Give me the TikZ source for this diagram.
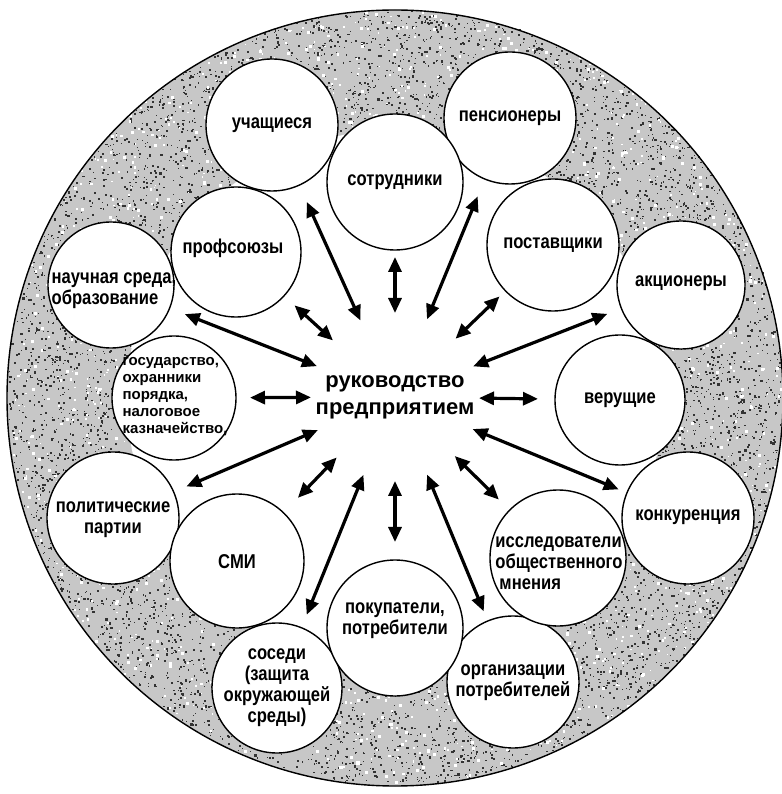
\documentclass[tikz,border=0pt]{standalone}
\usepackage{fontspec}
\setmainfont{Liberation Sans}
\newfontfamily\lblfont[FakeStretch=0.83]{Liberation Sans}
\usetikzlibrary{arrows.meta,calc}

\tikzset{
  member/.style={circle,draw,line width=1.4pt,fill=white,inner sep=0pt},
  lbl/.style={font=\lblfont\bfseries\fontsize{20}{21}\selectfont,align=center,inner sep=0pt},
  lblleft/.style={lbl,align=left},
  small/.style={font=\bfseries\fontsize{15}{17}\selectfont,align=left,inner sep=0pt},
  arr/.style={line width=3.2pt,{Triangle[length=15pt,width=13pt]}-{Triangle[length=15pt,width=13pt]}},
}

\begin{document}
\begin{tikzpicture}[x=1pt,y=1pt]
\useasboundingbox (-395,-396) rectangle (386,398);
% stippled ring
\fill[black!22] (0,0) circle (388);
\fill[white] (0,0) circle (268);
\pgfmathsetseed{4}
\foreach \i in {1,...,6500}{
  \pgfmathsetmacro\ang{rnd*360}
  \pgfmathsetmacro\rr{100*sqrt(7.2+rnd*7.8)}
  \pgfmathsetmacro\sz{0.8+1.5*rnd}
  \fill[black!80] (\ang:\rr) rectangle ++(\sz,\sz);
}
\foreach \i in {1,...,1300}{
  \pgfmathsetmacro\ang{rnd*360}
  \pgfmathsetmacro\rr{100*sqrt(7.2+rnd*7.8)}
  \pgfmathsetmacro\sz{1.2+2*rnd}
  \fill[white] (\ang:\rr) rectangle ++(\sz,\sz);
}
\draw[line width=1.4pt] (0,0) circle (388);
%
% outer ring of circles
\node[member,minimum size=132] (uch) at (-123,273) {};
\node[member,minimum size=132] (pens) at (115,280) {};
\node[member,minimum size=128] (akc) at (286,113) {};
\node[member,minimum size=132] (konk) at (293,-120) {};
\node[member,minimum size=132] (org) at (118,-284) {};
\node[member,minimum size=130] (sos) at (-118,-290) {};
\node[member,minimum size=132] (part) at (-282,-120) {};
\node[member,minimum size=126] (nauch) at (-284,113) {};
%
% inner ring of circles
\node[member,minimum size=136] (sotr) at (0,216) {};
\node[member,minimum size=132] (post) at (158,153) {};
\node[member,minimum size=130] (ver) at (225,-2) {};
\node[member,minimum size=136] (issl) at (163,-160) {};
\node[member,minimum size=136] (pokup) at (0,-230) {};
\node[member,minimum size=134] (smi) at (-158,-163) {};
\node[member,minimum size=124] (gos) at (-221,0) {};
\node[member,minimum size=130] (prof) at (-159,146) {};
%
% texts
\node[lbl] (uch-t) at (uch) {учащиеся};
\node[lbl] (pens-t) at (pens) {пенсионеры};
\node[lbl] (akc-t) at (286,115) {акционеры};
\node[lbl] (konk-t) at (293,-119) {конкуренция};
\node[lbl] (org-t) at (118,-285) {организации\\потребителей};
\node[lbl] (sos-t) at (-118,-290) {соседи\\(защита\\окружающей\\среды)};
\node[lbl] (part-t) at (-282,-122) {политические\\партии};
\node[lblleft] (nauch-t) at (-281,107) {научная среда,\\образование};
\node[lbl] (sotr-t) at (sotr) {сотрудники};
\node[lbl] (post-t) at (post) {поставщики};
\node[lbl] (ver-t) at (ver) {верущие};
\node[lblleft] (issl-t) at (164,-165) {исследователи\\общественного\\\hspace{4pt}мнения};
\node[lbl] (pokup-t) at (0,-223) {покупатели,\\потребители};
\node[lbl] (smi-t) at (-158,-164) {СМИ};
\node[small] (gos-t) at (-220,1) {государство,\\охранники\\порядка,\\налоговое\\казначейство,};
\node[lbl] (prof-t) at (-162,150) {профсоюзы};
%
\node[font=\bfseries\fontsize{22}{27}\selectfont,align=center,inner sep=0pt] (boss) at (0,1) {руководство\\предприятием};
%
% arrows
\draw[arr] ($(boss.center)!84pt!(sotr)$) -- ($(boss.center)!140pt!(sotr)$);
\draw[arr] ($(boss.center)!84pt!(post)$) -- ($(boss.center)!145pt!(post)$);
\draw[arr] ($(boss.center)!84pt!(ver)$) -- ($(boss.center)!143pt!(ver)$);
\draw[arr] ($(boss.center)!84pt!(issl)$) -- ($(boss.center)!146pt!(issl)$);
\draw[arr] ($(boss.center)!84pt!(pokup)$) -- ($(boss.center)!145pt!(pokup)$);
\draw[arr] ($(boss.center)!84pt!(smi)$) -- ($(boss.center)!140pt!(smi)$);
\draw[arr] ($(boss.center)!84pt!(gos)$) -- ($(boss.center)!145pt!(gos)$);
\draw[arr] ($(boss.center)!84pt!(prof)$) -- ($(boss.center)!136pt!(prof)$);
\draw[arr] ($(boss.center)!84pt!(uch)$) -- ($(boss.center)!214pt!(uch)$);
\draw[arr] ($(boss.center)!84pt!(pens)$) -- ($(boss.center)!217pt!(pens)$);
\draw[arr] ($(boss.center)!84pt!(akc)$) -- ($(boss.center)!228pt!(akc)$);
\draw[arr] ($(boss.center)!84pt!(konk)$) -- ($(boss.center)!242pt!(konk)$);
\draw[arr] ($(boss.center)!84pt!(org)$) -- ($(boss.center)!232pt!(org)$);
\draw[arr] ($(boss.center)!84pt!(sos)$) -- ($(boss.center)!235pt!(sos)$);
\draw[arr] ($(boss.center)!84pt!(part)$) -- ($(boss.center)!227pt!(part)$);
\draw[arr] ($(boss.center)!84pt!(nauch)$) -- ($(boss.center)!226pt!(nauch)$);
\end{tikzpicture}
\end{document}
